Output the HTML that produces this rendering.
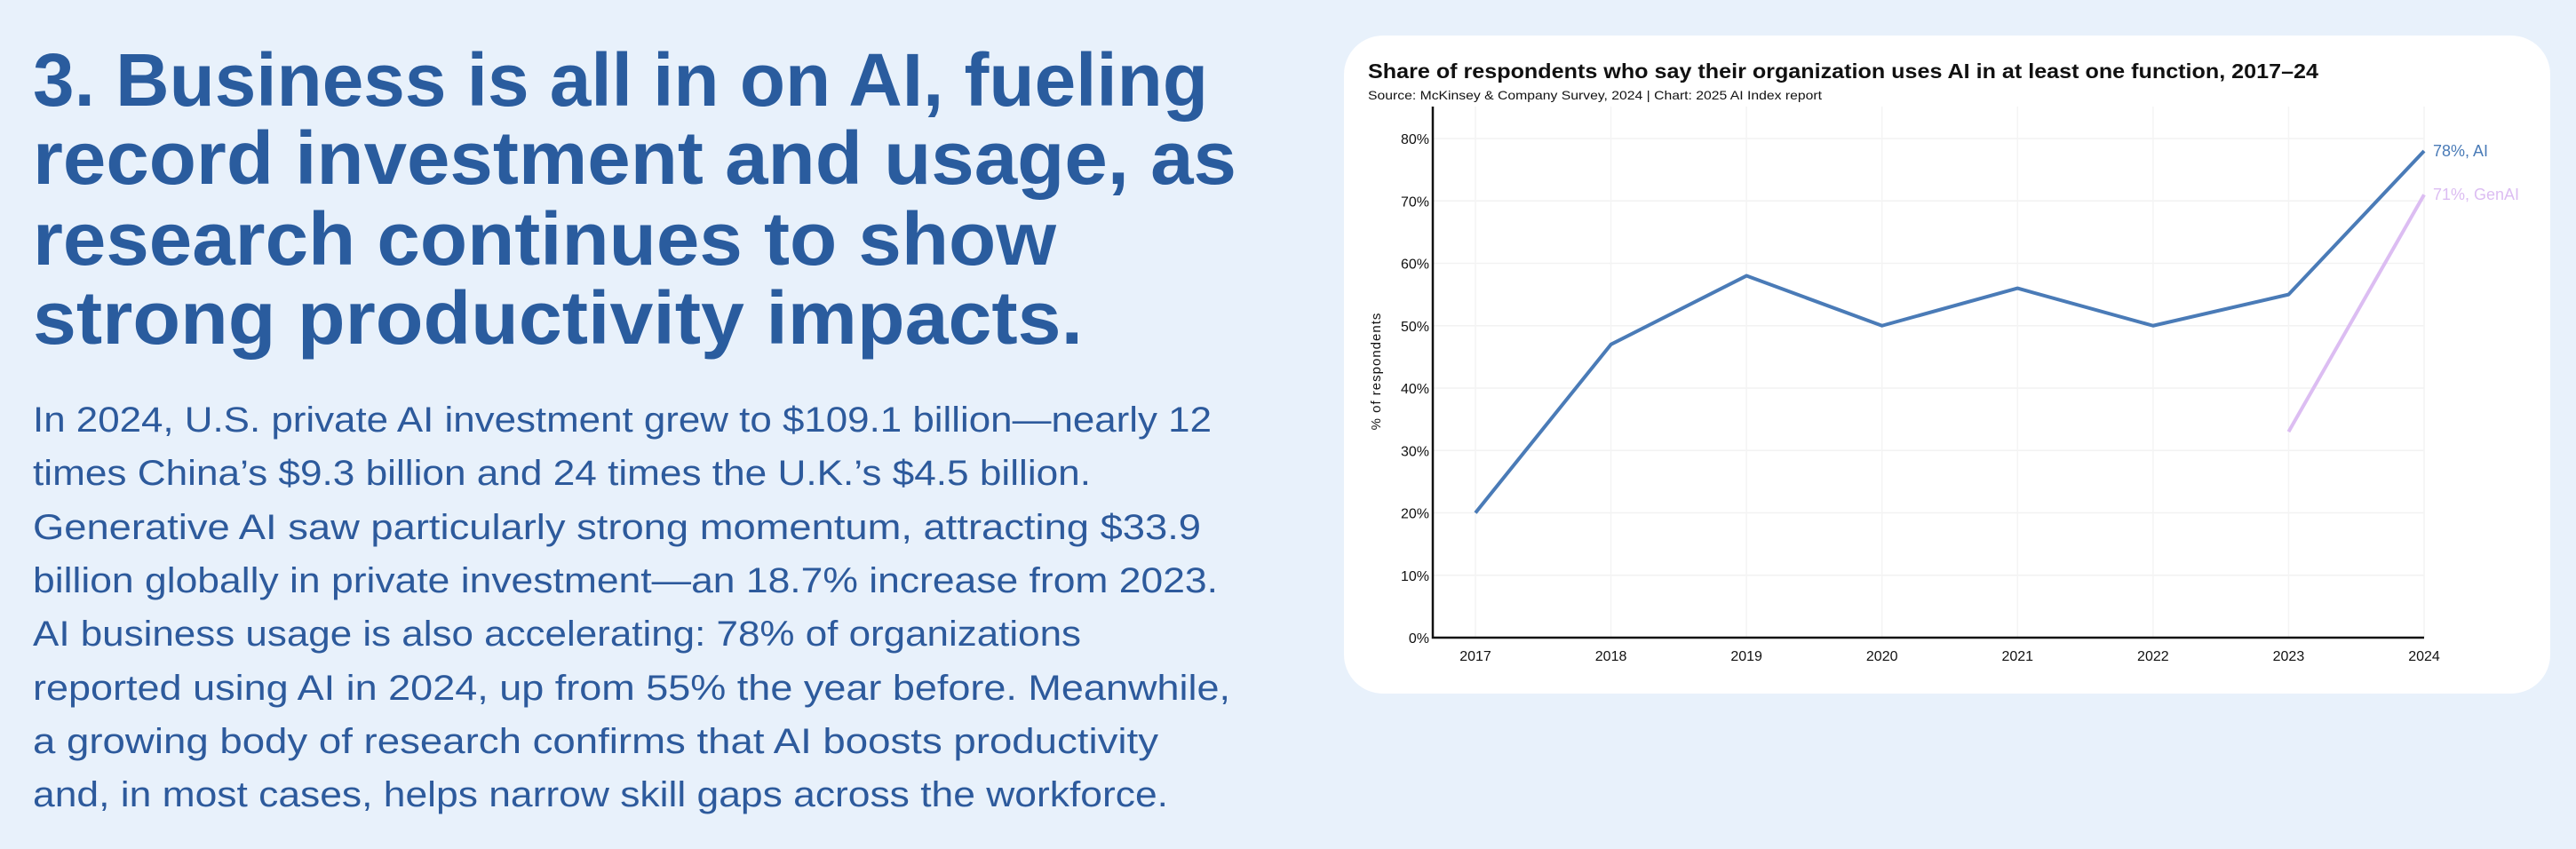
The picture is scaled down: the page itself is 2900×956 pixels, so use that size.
<!DOCTYPE html>
<html><head><meta charset="utf-8">
<style>
html,body{margin:0;padding:0;}
body{width:2900px;height:956px;background:#e8f1fb;overflow:hidden;font-family:"Liberation Sans",sans-serif;}
svg{position:absolute;left:0;top:0;}
</style></head>
<body>
<svg width="2900" height="956" xmlns="http://www.w3.org/2000/svg">
<g fill="#2a5c9e" font-family="Liberation Sans, sans-serif" font-weight="bold" font-size="84">
<text x="37" y="119" textLength="1323" lengthAdjust="spacingAndGlyphs">3. Business is all in on AI, fueling</text>
<text x="37" y="207" textLength="1355" lengthAdjust="spacingAndGlyphs">record investment and usage, as</text>
<text x="37" y="298" textLength="1152" lengthAdjust="spacingAndGlyphs">research continues to show</text>
<text x="37" y="387" textLength="1182" lengthAdjust="spacingAndGlyphs">strong productivity impacts.</text>
</g>
<g fill="#2d5a9c" font-family="Liberation Sans, sans-serif" font-size="40">
<text x="37" y="486" textLength="1327" lengthAdjust="spacingAndGlyphs">In 2024, U.S. private AI investment grew to $109.1 billion—nearly 12</text>
<text x="37" y="546" textLength="1191" lengthAdjust="spacingAndGlyphs">times China’s $9.3 billion and 24 times the U.K.’s $4.5 billion.</text>
<text x="37" y="607" textLength="1315" lengthAdjust="spacingAndGlyphs">Generative AI saw particularly strong momentum, attracting $33.9</text>
<text x="37" y="667" textLength="1334" lengthAdjust="spacingAndGlyphs">billion globally in private investment—an 18.7% increase from 2023.</text>
<text x="37" y="727" textLength="1180" lengthAdjust="spacingAndGlyphs">AI business usage is also accelerating: 78% of organizations</text>
<text x="37" y="788" textLength="1348" lengthAdjust="spacingAndGlyphs">reported using AI in 2024, up from 55% the year before. Meanwhile,</text>
<text x="37" y="848" textLength="1267" lengthAdjust="spacingAndGlyphs">a growing body of research confirms that AI boosts productivity</text>
<text x="37" y="908" textLength="1278" lengthAdjust="spacingAndGlyphs">and, in most cases, helps narrow skill gaps across the workforce.</text>
</g>
<rect x="1513" y="40" width="1358" height="741" rx="44" fill="#ffffff"/>
<text x="1540" y="88" font-size="23" font-weight="bold" fill="#111" textLength="1070" lengthAdjust="spacingAndGlyphs">Share of respondents who say their organization uses AI in at least one function, 2017–24</text>
<text x="1540" y="112" font-size="14" fill="#111" textLength="511" lengthAdjust="spacingAndGlyphs">Source: McKinsey &amp; Company Survey, 2024 | Chart: 2025 AI Index report</text>
<g id="plot"></g>
<text transform="translate(1554,418) rotate(-90)" text-anchor="middle" font-size="15" fill="#111" letter-spacing="1">% of respondents</text>
</svg>
<script>
const years = [2017, 2018, 2019, 2020, 2021, 2022, 2023, 2024];
const aiValues = [20, 47, 58, 50, 56, 50, 55, 78];
const genaiYears = [2023, 2024];
const genaiValues = [33, 71];
const yTicks = [0, 10, 20, 30, 40, 50, 60, 70, 80];

const NS = "http://www.w3.org/2000/svg";
const plot = document.getElementById('plot');
const x0 = 1661, x1 = 2729, yBase = 718, yPer = 7.025;
function xScale(yr){ return x0 + (yr - years[0]) * (x1 - x0) / (years[years.length-1] - years[0]); }
function yScale(v){ return yBase - v * yPer; }
function mk(tag, attrs){ const e = document.createElementNS(NS, tag); for (const k in attrs) e.setAttribute(k, attrs[k]); plot.appendChild(e); return e; }

yTicks.forEach(t => {
  if (t > 0) {
    const g = mk('line', {x1: 1613, x2: x1, y1: yScale(t), y2: yScale(t), stroke: '#f2f2f2', 'stroke-width': 1.5});
    
    
  }
  const l = mk('text', {x: 1609, y: yScale(t) + 6, 'text-anchor': 'end', 'font-size': 16, fill: '#111'});
  l.textContent = t + '%';
  
  
});
years.forEach(yr => {
  const g = mk('line', {x1: xScale(yr), x2: xScale(yr), y1: 120, y2: yBase, stroke: '#f4f4f4', 'stroke-width': 1.5});
  
  
  const l = mk('text', {x: xScale(yr), y: 744, 'text-anchor': 'middle', 'font-size': 16, fill: '#111'});
  l.textContent = yr;
  
  
});
const ax = mk('path', {d: `M1613 120 V${yBase} H${x1}`, fill: 'none', stroke: '#111', 'stroke-width': 2.5});



const aiLine = mk('polyline', {points: years.map((yr,i) => xScale(yr) + ',' + yScale(aiValues[i])).join(' '), fill: 'none', stroke: '#4a7bb7', 'stroke-width': 4, 'stroke-linejoin': 'round'});


const genLine = mk('polyline', {points: genaiYears.map((yr,i) => xScale(yr) + ',' + yScale(genaiValues[i])).join(' '), fill: 'none', stroke: '#dcbdf2', 'stroke-width': 4});



const la = mk('text', {x: x1 + 10, y: yScale(aiValues[aiValues.length-1]) + 6, 'font-size': 18, fill: '#4a7bb7'});
la.textContent = aiValues[aiValues.length-1] + '%, AI';


const lg = mk('text', {x: x1 + 10, y: yScale(genaiValues[genaiValues.length-1]) + 6, 'font-size': 18, fill: '#dcbdf2'});
lg.textContent = genaiValues[genaiValues.length-1] + '%, GenAI';


</script>
</body></html>
